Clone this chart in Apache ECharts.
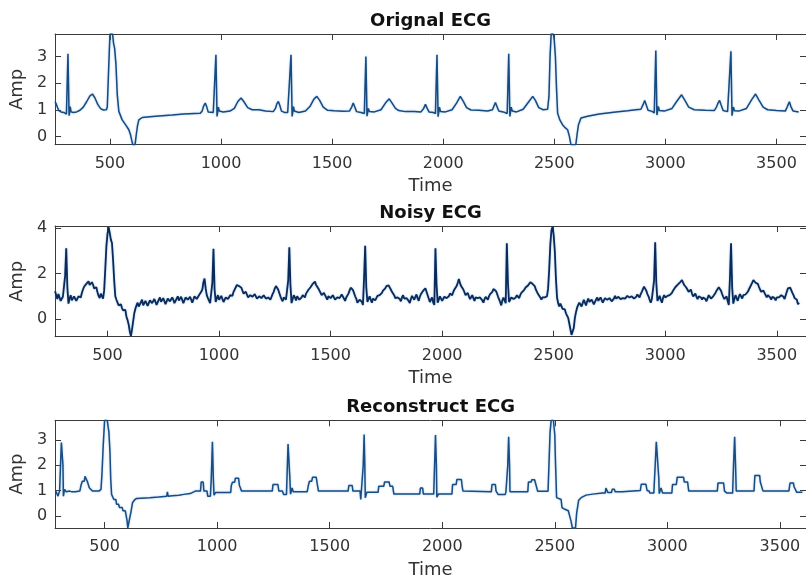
<!DOCTYPE html>
<html>
<head>
<meta charset="utf-8">
<script src="https://cdn.jsdelivr.net/npm/echarts@6/dist/echarts.min.js"></script>
<style>
html,body{margin:0;padding:0;background:#fff;}
#chart{width:806px;height:580px;}
</style>
</head>
<body>
<div id="chart"></div>
<script>
// ---------------- DATA ----------------
const titles = ['Orignal ECG', 'Noisy ECG', 'Reconstruct ECG'];
const xTickValues = [500, 1000, 1500, 2000, 2500, 3000, 3500];
const yTicksOrig = [0, 1, 2, 3];
const yTicksNoisy = [0, 2, 4];
const yTicksRecon = [0, 1, 2, 3];
const xRanges = [[253, 3633], [265, 3631], [280, 3616]];
const yRanges = [[-0.31, 3.84], [-0.78, 4.1], [-0.48, 3.78]];

// Original ECG: [time, amplitude]
const origSignal = [
[253,1.30],[258,1.22],[264,1.08],[270,0.97],[280,0.92],[292,0.90],[300,0.88],[304,0.84],[311,3.10],[316,0.78],[319,0.92],[321,1.12],[325,0.92],[335,0.90],[350,0.92],[365,0.98],[380,1.10],[395,1.30],[410,1.52],[421,1.59],[432,1.45],[445,1.20],[458,1.04],[470,0.99],[484,1.00],[488,1.10],[494,2.5],[500,3.84],[506,3.84],[512,3.84],[516,3.5],[521,3.3],[527,2.7],[533,1.56],[540,0.94],[555,0.62],[570,0.44],[585,0.25],[593,0.05],[598,-0.15],[603,-0.31],[613,-0.31],[619,0.1],[624,0.4],[630,0.62],[645,0.71],[680,0.74],[720,0.77],[780,0.80],[832,0.84],[880,0.86],[907,0.87],[915,0.95],[922,1.15],[929,1.25],[936,1.1],[942,0.92],[950,0.88],[965,0.90],[970,0.86],[977,3.06],[982,0.75],[985,0.92],[988,1.1],[992,0.95],[1010,0.92],[1040,0.95],[1060,1.05],[1075,1.30],[1090,1.44],[1103,1.30],[1120,1.08],[1140,1.0],[1170,1.0],[1200,0.95],[1235,0.93],[1245,1.05],[1251,1.22],[1258,1.31],[1265,1.15],[1272,0.95],[1285,0.90],[1300,0.90],[1308,0.86],[1315,3.06],[1320,0.75],[1323,0.92],[1326,1.12],[1330,0.95],[1350,0.90],[1380,0.95],[1400,1.12],[1418,1.40],[1431,1.50],[1444,1.35],[1460,1.10],[1480,0.98],[1510,0.96],[1550,0.94],[1578,0.95],[1588,1.1],[1595,1.25],[1602,1.1],[1610,0.93],[1630,0.90],[1645,0.86],[1652,3.0],[1657,0.76],[1660,0.9],[1663,1.05],[1668,0.93],[1690,0.92],[1720,1.0],[1740,1.25],[1757,1.41],[1770,1.25],[1785,1.05],[1800,0.97],[1830,0.93],[1870,0.93],[1900,0.92],[1912,1.05],[1920,1.2],[1928,1.05],[1936,0.92],[1955,0.90],[1965,0.86],[1972,3.06],[1977,0.74],[1980,0.92],[1983,1.1],[1988,0.93],[2010,0.92],[2040,1.0],[2060,1.25],[2077,1.5],[2090,1.32],[2105,1.08],[2125,0.99],[2160,0.98],[2200,0.95],[2222,1.0],[2229,1.15],[2235,1.27],[2242,1.12],[2250,0.95],[2270,0.92],[2288,0.86],[2295,3.1],[2300,0.75],[2303,0.92],[2306,1.1],[2311,0.95],[2330,0.92],[2360,1.02],[2385,1.3],[2403,1.5],[2415,1.35],[2430,1.08],[2450,1.0],[2470,1.02],[2476,1.5],[2481,3.0],[2486,3.84],[2496,3.84],[2500,3.6],[2505,3.0],[2510,1.81],[2515,0.87],[2525,0.62],[2537,0.44],[2550,0.32],[2560,0.25],[2568,0.0],[2575,-0.31],[2597,-0.31],[2603,0.1],[2609,0.44],[2620,0.69],[2650,0.76],[2702,0.84],[2777,0.92],[2830,0.96],[2867,1.0],[2890,1.02],[2900,1.2],[2907,1.35],[2914,1.18],[2922,0.98],[2940,0.94],[2950,0.88],[2957,3.22],[2962,0.8],[2965,0.95],[2968,1.12],[2973,0.97],[2995,0.95],[3030,1.05],[3050,1.3],[3073,1.56],[3088,1.35],[3105,1.1],[3130,1.0],[3180,0.98],[3220,0.97],[3230,1.1],[3237,1.25],[3244,1.35],[3251,1.18],[3260,0.97],[3280,0.93],[3288,0.86],[3295,3.19],[3300,0.78],[3303,0.95],[3306,1.1],[3311,0.96],[3330,0.95],[3365,1.05],[3390,1.4],[3406,1.59],[3420,1.38],[3440,1.1],[3460,1.0],[3500,0.97],[3540,0.95],[3548,1.1],[3558,1.3],[3566,1.1],[3575,0.95],[3600,0.92]
];

// Noisy ECG: amplitude sampled every noisyStep time units from noisyStart (one row = 100 time units)
const noisyStart = 265;
const noisyStep = 5;
const noisyValues = [
1.22,1.05,0.88,1.1,1.02,0.8,0.72,0.98,0.95,1.9,3.12,1.4,0.68,0.9,1.05,0.82,0.74,1.0,0.98,0.8,
0.78,1.0,1.08,0.95,1.15,1.3,1.42,1.35,1.55,1.62,1.66,1.5,1.48,1.62,1.52,1.35,1.28,1.4,1.18,1.02,
0.92,1.12,1.1,0.9,1.25,2.2,3.2,3.75,4.05,3.8,3.5,3.35,2.6,1.7,1.0,0.85,0.72,0.6,0.55,0.65,
0.48,0.38,0.32,0.4,0.1,-0.05,-0.25,-0.55,-0.75,-0.45,-0.1,0.25,0.45,0.6,0.72,0.55,0.48,0.75,0.85,0.6,
0.62,0.8,0.78,0.58,0.55,0.82,0.9,0.7,0.68,0.88,0.82,0.62,0.6,0.85,0.95,0.76,0.7,0.92,0.88,0.65,
0.66,0.9,0.98,0.78,0.75,0.95,0.85,0.7,0.68,0.9,1.0,0.82,0.78,0.98,0.92,0.7,0.72,0.95,1.02,0.85,
0.8,0.98,0.95,0.72,0.75,1.0,1.05,0.88,0.85,1.05,1.1,1.2,1.3,1.62,1.78,1.35,1.05,0.92,0.85,0.7,
0.62,1.6,3.1,1.3,0.75,0.92,1.05,0.85,0.8,1.02,0.98,0.75,0.72,0.95,1.02,0.88,0.85,1.05,1.1,1.02,
1.2,1.28,1.4,1.5,1.55,1.45,1.42,1.38,1.3,1.12,1.05,1.2,1.15,0.95,0.9,1.05,1.12,0.98,0.95,1.1,
1.08,0.9,0.85,1.0,1.05,0.92,0.88,1.05,1.1,0.9,0.82,0.95,1.0,0.85,0.9,1.1,1.2,1.35,1.45,1.48,
1.3,1.15,1.0,0.88,0.78,0.95,1.0,0.85,0.8,1.7,3.16,1.5,0.7,0.88,1.05,0.95,0.82,1.0,0.98,0.85,
0.78,0.95,1.05,1.0,0.95,1.12,1.2,1.28,1.3,1.4,1.48,1.55,1.62,1.65,1.5,1.42,1.35,1.25,1.15,1.05,
1.0,1.15,1.12,0.95,0.85,1.0,1.05,0.92,0.88,1.05,1.0,0.85,0.78,0.95,1.02,0.92,0.9,1.08,1.08,0.9,
0.8,0.95,1.0,1.12,1.25,1.38,1.42,1.28,1.15,1.0,0.9,0.72,0.65,0.85,0.92,0.75,0.62,1.8,3.23,1.4,
0.75,0.88,1.0,0.85,0.72,0.9,0.95,0.82,0.85,1.02,1.1,1.05,1.0,1.15,1.25,1.3,1.35,1.45,1.5,1.48,
1.4,1.3,1.2,1.12,1.05,0.92,0.85,0.95,1.0,0.88,0.78,0.95,1.05,0.9,0.82,0.92,0.98,0.8,0.7,0.88,
1.02,0.95,0.85,0.98,1.08,0.92,0.8,0.98,1.1,1.15,1.25,1.32,1.35,1.2,1.05,0.9,0.75,0.85,0.95,0.72,
0.62,3.12,1.5,0.72,0.85,1.0,0.92,0.8,0.78,0.98,1.05,0.92,0.85,1.0,1.12,1.05,1.05,1.2,1.3,1.38,
1.45,1.6,1.76,1.58,1.45,1.4,1.3,1.18,1.05,1.1,1.15,1.0,0.88,0.95,1.05,0.92,0.8,0.95,1.02,0.92,
0.85,0.95,1.0,0.82,0.72,0.88,0.98,0.9,0.85,1.0,1.1,1.15,1.2,1.32,1.38,1.25,1.15,1.0,0.92,0.75,
0.6,0.82,0.95,0.82,0.7,3.34,1.6,0.75,0.75,0.95,1.02,0.88,0.8,0.95,1.05,1.0,0.92,1.05,1.15,1.2,
1.25,1.32,1.4,1.45,1.48,1.55,1.62,1.6,1.55,1.5,1.45,1.3,1.2,1.1,1.05,0.95,0.85,0.95,1.02,0.95,
0.9,1.0,1.35,2.2,3.3,3.9,4.08,3.7,3.0,1.8,0.95,0.7,0.55,0.68,0.62,0.45,0.38,0.42,0.25,0.15,
0.05,-0.2,-0.45,-0.7,-0.76,-0.4,0.05,0.3,0.5,0.62,0.72,0.65,0.55,0.7,0.85,0.72,0.6,0.78,0.9,0.75,
0.68,0.85,0.82,0.65,0.62,0.85,0.95,0.8,0.75,0.95,0.92,0.72,0.7,0.92,1.0,0.85,0.78,0.92,0.95,0.78,
0.72,0.9,1.02,0.9,0.82,0.98,1.05,0.88,0.8,0.92,0.98,0.9,0.85,1.02,1.1,0.95,0.88,1.0,1.05,0.9,
0.82,0.98,1.08,1.0,0.95,1.1,1.2,1.32,1.43,1.38,1.25,1.1,1.0,0.85,0.72,0.88,0.95,1.7,3.38,1.6,
0.8,0.9,1.02,0.85,0.72,0.92,1.05,0.95,0.88,1.02,1.1,1.05,1.0,1.15,1.25,1.32,1.4,1.45,1.5,1.55,
1.6,1.65,1.72,1.6,1.5,1.45,1.38,1.3,1.2,1.25,1.3,1.12,1.0,1.05,1.12,0.98,0.88,1.0,1.08,0.95,
0.85,0.95,1.02,0.88,0.78,0.92,1.05,0.98,0.9,0.95,1.0,1.08,1.15,1.25,1.32,1.4,1.38,1.25,1.1,0.98,
0.88,0.95,1.0,0.78,0.62,1.8,3.34,1.4,0.68,0.88,1.05,0.92,0.8,0.98,1.1,1.0,0.9,1.05,1.12,1.08,
1.05,1.2,1.3,1.4,1.48,1.6,1.72,1.68,1.6,1.58,1.55,1.42,1.3,1.2,1.15,1.25,1.2,1.05,0.95,1.05,
1.1,0.95,0.85,0.98,1.05,0.92,0.82,0.95,1.0,0.95,0.9,1.05,1.12,0.98,0.88,1.05,1.2,1.35,1.43,1.38,
1.3,1.15,1.05,0.92,0.95,0.85,0.65,0.72
];

// Reconstructed ECG: [time, amplitude]
const reconSignal = [
[283,0.98],[290,0.95],[293,0.78],[297,0.78],[300,0.98],[305,0.98],[308,2.9],[312,2.95],[315,2.0],[317,0.78],[320,0.78],[322,1.05],[328,1.05],[330,0.95],[345,0.98],[355,0.95],[370,0.95],[390,0.98],[395,1.2],[401,1.37],[410,1.37],[413,1.56],[420,1.56],[423,1.37],[428,1.3],[432,1.11],[440,1.11],[446,0.98],[475,0.98],[484,1.05],[488,1.6],[494,2.8],[500,3.78],[512,3.78],[516,3.5],[519,3.32],[524,2.5],[527,1.5],[531,0.85],[537,0.85],[541,0.65],[550,0.65],[553,0.46],[562,0.46],[566,0.33],[578,0.33],[582,0.2],[592,0.2],[596,0.0],[600,-0.2],[603,-0.48],[608,-0.48],[612,-0.07],[618,0.2],[624,0.52],[632,0.62],[642,0.69],[700,0.72],[740,0.75],[776,0.78],[779,0.95],[782,0.78],[800,0.8],[830,0.82],[852,0.85],[880,0.88],[903,0.98],[926,0.98],[929,1.34],[938,1.34],[941,0.98],[955,0.98],[958,0.78],[970,0.78],[974,1.5],[979,2.93],[983,1.5],[986,0.82],[990,0.82],[993,0.92],[1060,0.92],[1063,1.2],[1068,1.33],[1078,1.33],[1081,1.49],[1095,1.49],[1099,1.2],[1103,1.11],[1108,0.98],[1245,0.98],[1248,1.24],[1270,1.24],[1274,0.98],[1290,0.98],[1295,0.85],[1308,0.85],[1312,2.0],[1315,2.84],[1320,2.84],[1323,1.5],[1326,0.86],[1330,0.86],[1333,1.1],[1336,1.1],[1338,0.95],[1400,0.95],[1405,1.2],[1410,1.37],[1420,1.37],[1424,1.53],[1440,1.53],[1444,1.3],[1450,0.98],[1582,0.98],[1585,1.2],[1600,1.2],[1603,0.98],[1635,0.98],[1638,0.65],[1645,0.65],[1649,2.0],[1653,3.22],[1656,2.0],[1658,0.72],[1662,0.72],[1665,0.93],[1715,0.93],[1718,1.17],[1740,1.17],[1744,1.34],[1764,1.34],[1768,1.17],[1780,1.17],[1785,0.86],[1900,0.86],[1903,1.1],[1913,1.1],[1916,0.86],[1962,0.86],[1966,2.0],[1970,3.2],[1974,2.0],[1976,0.74],[1980,0.74],[1983,0.86],[2043,0.86],[2046,1.24],[2062,1.24],[2065,1.44],[2085,1.44],[2088,1.2],[2092,0.98],[2096,0.95],[2218,0.95],[2221,1.24],[2236,1.24],[2239,0.98],[2245,0.98],[2248,0.85],[2280,0.85],[2283,0.95],[2288,0.95],[2291,2.0],[2295,3.13],[2299,2.0],[2301,0.95],[2380,0.95],[2383,1.34],[2395,1.34],[2398,1.43],[2410,1.43],[2413,1.34],[2420,1.34],[2424,0.97],[2470,0.97],[2474,2.0],[2479,3.3],[2484,3.78],[2494,3.78],[2500,3.2],[2503,2.15],[2508,0.72],[2528,0.65],[2532,0.33],[2545,0.26],[2560,0.2],[2566,0.0],[2572,-0.2],[2578,-0.48],[2592,-0.48],[2597,0.1],[2606,0.62],[2617,0.72],[2639,0.82],[2668,0.86],[2712,0.9],[2724,0.9],[2727,1.1],[2733,1.1],[2736,0.92],[2752,0.92],[2755,1.05],[2765,1.05],[2768,0.95],[2800,0.95],[2803,1.0],[2880,1.0],[2884,1.25],[2905,1.25],[2910,1.0],[2919,0.98],[2922,0.9],[2940,0.9],[2946,2.0],[2951,2.93],[2958,2.9],[2962,1.5],[2964,0.88],[2970,0.88],[2972,1.1],[2976,1.1],[2979,0.9],[3020,0.9],[3023,1.24],[3040,1.24],[3044,1.53],[3072,1.53],[3075,1.34],[3090,1.34],[3095,0.98],[3222,0.98],[3225,1.3],[3250,1.3],[3254,0.98],[3262,0.98],[3265,0.9],[3290,0.9],[3294,2.0],[3299,3.13],[3303,2.0],[3306,0.98],[3385,0.98],[3389,1.6],[3410,1.6],[3413,1.34],[3420,1.34],[3425,0.98],[3540,0.98],[3545,1.3],[3560,1.3],[3563,1.15],[3570,1.15],[3575,0.93],[3600,0.93]
];

// ---------------- CHART ----------------
const FONT = 'DejaVu Sans';
const AXIS_COLOR = '#3a3a3a';
const TEXT_COLOR = '#333333';

const noisySignal = noisyValues.map((v, i) => [noisyStart + i * noisyStep, v]);
const signals = [origSignal, noisySignal, reconSignal];
const yTickSets = [yTicksOrig, yTicksNoisy, yTicksRecon];
const lineColors = ['#164a80', '#0a2a5c', '#174c84'];
const lineWidths = [1.5, 1.8, 1.5];

const grids = [
  { left: 54, top: 34, width: 753, height: 110.7 },
  { left: 55, top: 226, width: 752, height: 110.7 },
  { left: 54, top: 420.3, width: 753, height: 109 }
];

const plain = v => String(v);
const xAxes = [], yAxes = [], series = [];
grids.forEach((g, i) => {
  const base = {
    gridIndex: i, type: 'value', min: xRanges[i][0], max: xRanges[i][1],
    splitLine: { show: false },
    axisLine: { show: true, onZero: false, lineStyle: { color: AXIS_COLOR, width: 1 } },
    axisTick: { show: true, inside: true, length: 6, customValues: xTickValues, lineStyle: { color: AXIS_COLOR } }
  };
  xAxes.push(Object.assign({}, base, {
    position: 'bottom',
    axisLabel: { show: true, customValues: xTickValues, formatter: plain, margin: 11, fontFamily: FONT, fontSize: 16, color: TEXT_COLOR },
    name: 'Time', nameLocation: 'middle', nameGap: 33,
    nameTextStyle: { fontFamily: FONT, fontSize: 18, color: TEXT_COLOR }
  }));
  xAxes.push(Object.assign({}, base, {
    position: 'top',
    axisLabel: { show: false },
    name: titles[i], nameLocation: 'middle', nameGap: 4,
    nameTextStyle: { fontFamily: FONT, fontSize: 18, fontWeight: 'bold', color: '#111' }
  }));
  const ybase = {
    gridIndex: i, type: 'value', min: yRanges[i][0], max: yRanges[i][1],
    splitLine: { show: false },
    axisLine: { show: true, onZero: false, lineStyle: { color: AXIS_COLOR, width: 1 } },
    axisTick: { show: true, inside: true, length: 6, customValues: yTickSets[i], lineStyle: { color: AXIS_COLOR } }
  };
  yAxes.push(Object.assign({}, ybase, {
    position: 'left',
    axisLabel: { show: true, customValues: yTickSets[i], formatter: plain, margin: 8, fontFamily: FONT, fontSize: 16, color: TEXT_COLOR },
    name: 'Amp', nameLocation: 'middle', nameGap: 20, nameRotate: 90,
    nameTextStyle: { fontFamily: FONT, fontSize: 18, color: TEXT_COLOR }
  }));
  yAxes.push(Object.assign({}, ybase, {
    position: 'right',
    axisLabel: { show: false }
  }));
  series.push({
    type: 'line', xAxisIndex: i * 2, yAxisIndex: i * 2,
    data: signals[i], showSymbol: false, symbol: 'none',
    clip: true, silent: true,
    lineStyle: { color: lineColors[i], width: lineWidths[i], shadowColor: 'rgba(80,150,210,0.55)', shadowBlur: 2 }
  });
});

const chart = echarts.init(document.getElementById('chart'), null, { renderer: 'canvas' });
chart.setOption({
  animation: false,
  backgroundColor: '#ffffff',
  grid: grids,
  xAxis: xAxes,
  yAxis: yAxes,
  series: series
});
</script>
</body>
</html>
